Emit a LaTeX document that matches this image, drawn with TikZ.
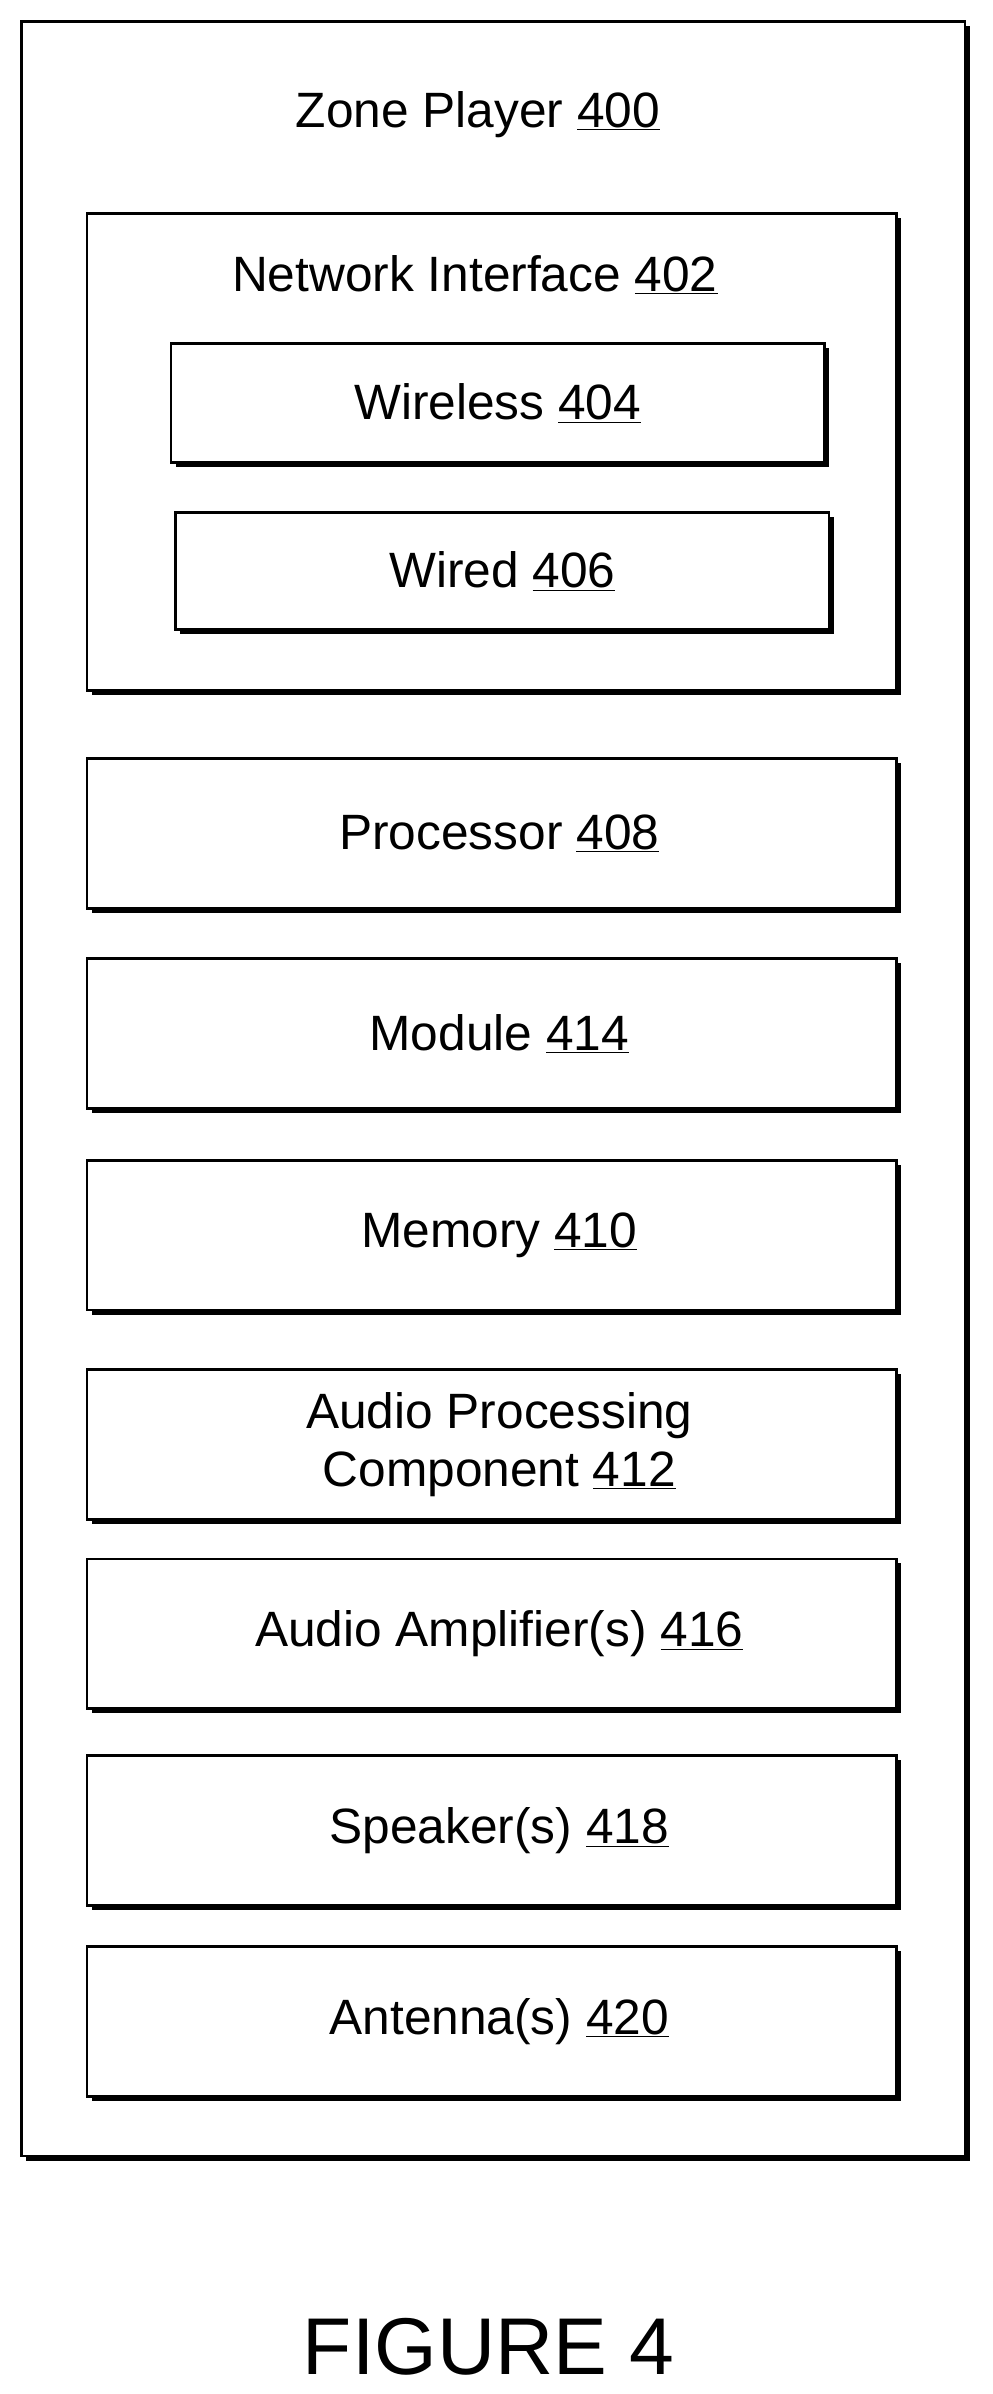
\documentclass[tikz,border=0pt]{standalone}
\usepackage{fontspec}
\setmainfont{Liberation Sans}
\usetikzlibrary{shadows}
\begin{document}
\begin{tikzpicture}[x=0.04cm, y=-0.04cm,
  every node/.style={font=\fontsize{37}{43}\selectfont},
  box/.style={draw, line width=2pt, fill=white, inner sep=0pt,
    drop shadow={shadow xshift=0.12cm, shadow yshift=-0.12cm, fill=black, opacity=1}},
  unit/.style={box, minimum width=21.2cm, minimum height=3.92cm, align=center}]
  \useasboundingbox (0,0) rectangle (650,1568);
  \node[box, minimum width=24.72cm, minimum height=55.92cm] (zp) at (323,713) {};
  \node (zplabel) at (313,75) {Zone Player \underline{400}};
  \node[box, minimum width=21.2cm, minimum height=12.48cm] (ni) at (322,296) {};
  \node (nilabel) at (311,180) {Network Interface \underline{402}};
  \node[box, minimum width=17.12cm, minimum height=3.12cm] (wl) at (326,264) {Wireless \underline{404}};
  \node[box, minimum width=17.12cm, minimum height=3.08cm] (wd) at (329,374) {Wired \underline{406}};
  \node[unit] (proc) at (322,546) {\hspace*{0.4cm}Processor \underline{408}};
  \node[unit] (mod) at (322,677) {\hspace*{0.4cm}Module \underline{414}};
  \node[unit] (mem) at (322,809) {\hspace*{0.4cm}Memory \underline{410}};
  \node[unit] (apc) at (322,946) {\hspace*{0.4cm}Audio Processing\\\hspace*{0.4cm}Component \underline{412}};
  \node[unit] (amp) at (322,1070) {\hspace*{0.4cm}Audio Amplifier(s) \underline{416}};
  \node[unit] (spk) at (322,1199) {\hspace*{0.4cm}Speaker(s) \underline{418}};
  \node[unit] (ant) at (322,1324) {\hspace*{0.4cm}Antenna(s) \underline{420}};
  \node[font=\fontsize{60}{66}\selectfont] (fig) at (320,1537) {FIGURE 4};
\end{tikzpicture}
\end{document}
